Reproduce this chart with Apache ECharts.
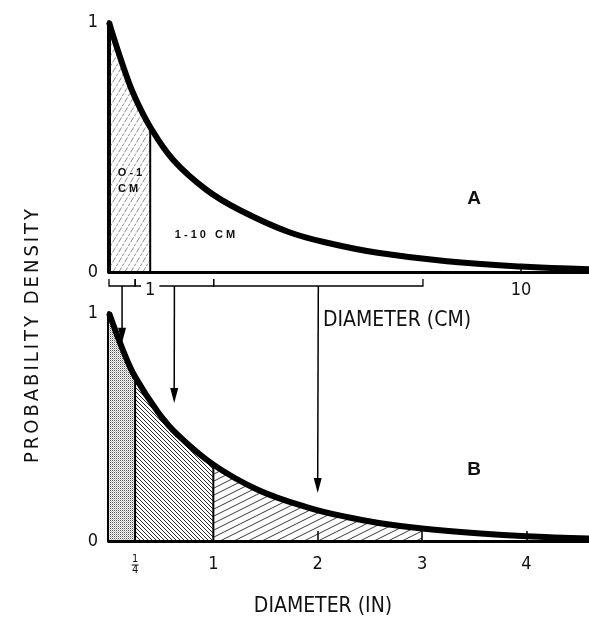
<!DOCTYPE html>
<html>
<head>
<meta charset="utf-8">
<script src="https://cdn.jsdelivr.net/npm/echarts@6/dist/echarts.min.js"></script>
<style>
  html, body { margin: 0; padding: 0; background: #fff; }
  #chart { width: 589px; height: 622px; }
</style>
</head>
<body>
<div id="chart"></div>
<script>
// Panel A: probability density against diameter in centimetres
const cmX       = [0, 0.1, 0.36, 0.6, 1.0, 1.56, 2.37, 3.17, 4.36, 5.4, 6.52, 8.2, 10, 11.65];
const cmDensity = [1.0, 0.945, 0.815, 0.71, 0.58, 0.448, 0.328, 0.248, 0.16, 0.113, 0.077, 0.043, 0.022, 0.011];
const cmShaded  = [0, 1];                 // 0-1 cm class
const cmLabelTicks = [1, 10];
const cmTicks   = [10];

// Panel B: the same density against diameter in inches
const inX       = [0, 0.14, 0.25, 0.47, 0.66, 1.0, 1.43, 1.9, 2.29, 2.6, 3.0, 3.56, 4.0, 4.6];
const inDensity = [1.0, 0.83, 0.72, 0.565, 0.465, 0.335, 0.224, 0.148, 0.104, 0.078, 0.055, 0.033, 0.021, 0.011];
const inClasses = [[0, 0.25], [0.25, 1], [1, 3]];
const inLabelTicks = [0.25, 1, 2, 3, 4];
const inTicks   = [2, 3, 4];

// Inch classes expressed in centimetres (brackets under panel A)
const cmBrackets = [[0, 0.635], [0.635, 2.54], [2.54, 7.62]];
// Arrows from each bracket down to the matching inch class
const arrowTargetIn   = [0.125, 0.625, 2.0];
const arrowTipDensity = [0.87, 0.605, 0.21];

const FONT = '"DejaVu Sans Condensed", "Liberation Sans Narrow", sans-serif';
const BOLD = '"Liberation Sans", Arial, sans-serif';

function pairs(xs, ys) { return xs.map((x, i) => [x, ys[i]]); }
function slice(xs, ys, a, b) {
  return pairs(xs, ys).filter(p => p[0] >= a && p[0] <= b);
}
function valueAt(xs, ys, x) { return ys[xs.indexOf(x)]; }
function spaced(s) { return s.split('').join('\u2006'); }

function pattern(w, h, draw) {
  const c = document.createElement('canvas');
  c.width = w; c.height = h;
  const g = c.getContext('2d');
  draw(g, w, h);
  return { image: c, repeat: 'repeat' };
}
function diag(g, w, h, forward) {
  const seg = (x0, y0, x1, y1) => { g.beginPath(); g.moveTo(x0, y0); g.lineTo(x1, y1); g.stroke(); };
  for (const dx of [-w, 0, w]) {
    for (const dy of [-h, 0, h]) {
      if (forward) seg(dx, h + dy, w + dx, dy);
      else seg(dx, dy, w + dx, h + dy);
    }
  }
}

const hatchA = pattern(6, 10, (g, w, h) => {
  g.strokeStyle = 'rgba(60,60,60,0.75)'; g.lineWidth = 0.8; g.setLineDash([3, 1.5]);
  diag(g, w, h, true);
});
const stipple = pattern(2, 2, (g) => {
  g.fillStyle = '#fff'; g.fillRect(0, 0, 2, 2);
  g.fillStyle = '#555'; g.fillRect(0, 0, 1, 1);
  g.fillStyle = '#bbb'; g.fillRect(1, 1, 1, 1);
});
const hatchBack = pattern(4, 4, (g, w, h) => {
  g.strokeStyle = '#111'; g.lineWidth = 0.9;
  diag(g, w, h, false);
});
const hatchFwd = pattern(14, 7, (g, w, h) => {
  g.strokeStyle = '#222'; g.lineWidth = 0.9;
  diag(g, w, h, true);
});
const inFills = [stipple, hatchBack, hatchFwd];

const BRACKET_LEVEL = -0.056;
const BRACKET_TICK  = -0.028;
const SMOOTH = 0.4;

const chart = echarts.init(document.getElementById('chart'), null, { renderer: 'canvas' });

const series = [];
// Panel A shaded class
series.push({
  type: 'line', xAxisIndex: 0, yAxisIndex: 0, smooth: SMOOTH, symbol: 'none', z: 2,
  lineStyle: { width: 0, opacity: 0 }, areaStyle: { color: hatchA, opacity: 1 },
  data: slice(cmX, cmDensity, cmShaded[0], cmShaded[1])
});
// Panel A boundary at 1 cm
series.push({
  type: 'line', xAxisIndex: 0, yAxisIndex: 0, symbol: 'none', z: 3,
  lineStyle: { width: 2, color: '#000' },
  data: [[cmShaded[1], 0], [cmShaded[1], valueAt(cmX, cmDensity, cmShaded[1])]]
});
// Panel A curve
series.push({
  type: 'line', xAxisIndex: 0, yAxisIndex: 0, smooth: SMOOTH, symbol: 'none', z: 5,
  lineStyle: { width: 6, color: '#000' },
  data: pairs(cmX, cmDensity)
});
// Brackets under panel A
series.push({
  type: 'custom', xAxisIndex: 0, yAxisIndex: 0, z: 4, clip: false,
  encode: { x: [0, 1] },
  data: cmBrackets,
  renderItem: (params, api) => {
    const a = api.coord([api.value(0), BRACKET_TICK]);
    const b = api.coord([api.value(0), BRACKET_LEVEL]);
    const c = api.coord([api.value(1), BRACKET_LEVEL]);
    const d = api.coord([api.value(1), BRACKET_TICK]);
    return { type: 'polyline', shape: { points: [a, b, c, d] },
             style: { stroke: '#000', lineWidth: 1.3, fill: null } };
  }
});
// Panel B classes
inClasses.forEach((r, i) => {
  series.push({
    type: 'line', xAxisIndex: 1, yAxisIndex: 1, smooth: SMOOTH, symbol: 'none', z: 2,
    lineStyle: { width: 0, opacity: 0 }, areaStyle: { color: inFills[i], opacity: 1 },
    data: slice(inX, inDensity, r[0], r[1])
  });
});
// Panel B class boundaries
[inClasses[1][0], inClasses[2][0]].forEach(x => {
  series.push({
    type: 'line', xAxisIndex: 1, yAxisIndex: 1, symbol: 'none', z: 3,
    lineStyle: { width: 2, color: '#000' },
    data: [[x, 0], [x, valueAt(inX, inDensity, x)]]
  });
});
// Panel B curve
series.push({
  type: 'line', xAxisIndex: 1, yAxisIndex: 1, smooth: SMOOTH, symbol: 'none', z: 5,
  lineStyle: { width: 6, color: '#000' },
  data: pairs(inX, inDensity)
});

const tickLabel = { fontFamily: FONT, fontSize: 18, color: '#111' };

chart.setOption({
  animation: false,
  backgroundColor: '#fff',
  grid: [
    { left: 109, right: 0, top: 22, height: 250 },
    { left: 109, right: 0, top: 313, height: 228 }
  ],
  xAxis: [
    {
      type: 'value', gridIndex: 0, min: 0, max: 11.65, z: 10,
      axisLine: { lineStyle: { color: '#000', width: 3 } },
      axisTick: { show: true, inside: true, length: 7, customValues: cmTicks, lineStyle: { color: '#000', width: 1.5 } },
      axisLabel: Object.assign({ customValues: cmLabelTicks, margin: 9, backgroundColor: '#fff', padding: [0, 4] }, tickLabel),
      splitLine: { show: false }
    },
    {
      type: 'value', gridIndex: 1, min: 0, max: 4.6, z: 10,
      axisLine: { lineStyle: { color: '#000', width: 3 } },
      axisTick: { show: true, inside: true, length: 10, customValues: inTicks, lineStyle: { color: '#000', width: 1.5 } },
      axisLabel: Object.assign({
        customValues: inLabelTicks, margin: 14,
        formatter: v => v === 0.25 ? '{n|1}\n{bar| }\n{n|4}' : String(v),
        rich: {
          n: { fontFamily: FONT, fontSize: 11, lineHeight: 9, color: '#111' },
          bar: { width: 7, height: 1, lineHeight: 2, fontSize: 1, backgroundColor: '#111' }
        }
      }, tickLabel),
      splitLine: { show: false }
    }
  ],
  yAxis: [0, 1].map(i => ({
    type: 'value', gridIndex: i, min: 0, max: 1, interval: 1,
    axisLine: { show: true, lineStyle: { color: '#000', width: 4 } },
    axisTick: { show: false },
    axisLabel: Object.assign({ margin: 11 }, tickLabel),
    splitLine: { show: false }
  })),
  series: series
});

// Titles, panel letters and class labels
const texts = [
  { x: 33, y: 336, rotation: Math.PI / 2, text: spaced('PROBABILITY DENSITY'), font: '20px ' + FONT },
  { x: 397, y: 321, text: 'DIAMETER (CM)', font: '21px ' + FONT },
  { x: 323, y: 607, text: 'DIAMETER (IN)', font: '21px ' + FONT },
  { x: 474, y: 199, text: 'A', font: 'bold 19px ' + BOLD },
  { x: 474, y: 470, text: 'B', font: 'bold 19px ' + BOLD },
  { x: 130, y: 173, text: 'O - 1', font: 'bold 11px ' + BOLD },
  { x: 128, y: 189, text: 'C M', font: 'bold 11px ' + BOLD },
  { x: 205, y: 235, text: '1 - 1 0   C M', font: 'bold 11px ' + BOLD }
].map((t, i) => ({
  type: 'text', id: 'text' + i, x: t.x, y: t.y, rotation: t.rotation || 0, z: 20,
  style: { text: t.text, font: t.font, fill: '#111', align: 'center', verticalAlign: 'middle' }
}));

// Arrows linking each centimetre bracket to its inch class
const arrows = [];
cmBrackets.forEach((br, i) => {
  const mid = (br[0] + br[1]) / 2;
  const p0 = chart.convertToPixel({ gridIndex: 0 }, [mid, BRACKET_LEVEL]);
  const p1 = chart.convertToPixel({ gridIndex: 1 }, [arrowTargetIn[i], arrowTipDensity[i]]);
  const head = 15, half = 4;
  arrows.push({
    type: 'line', id: 'shaft' + i, z: 20,
    shape: { x1: p0[0], y1: p0[1], x2: p1[0], y2: p1[1] - head + 2 },
    style: { stroke: '#000', lineWidth: 1.5 }
  });
  arrows.push({
    type: 'polygon', id: 'head' + i, z: 20,
    shape: { points: [[p1[0] - half, p1[1] - head], [p1[0] + half, p1[1] - head], [p1[0], p1[1]]] },
    style: { fill: '#000' }
  });
});

chart.setOption({ graphic: texts.concat(arrows) });
</script>
</body>
</html>
